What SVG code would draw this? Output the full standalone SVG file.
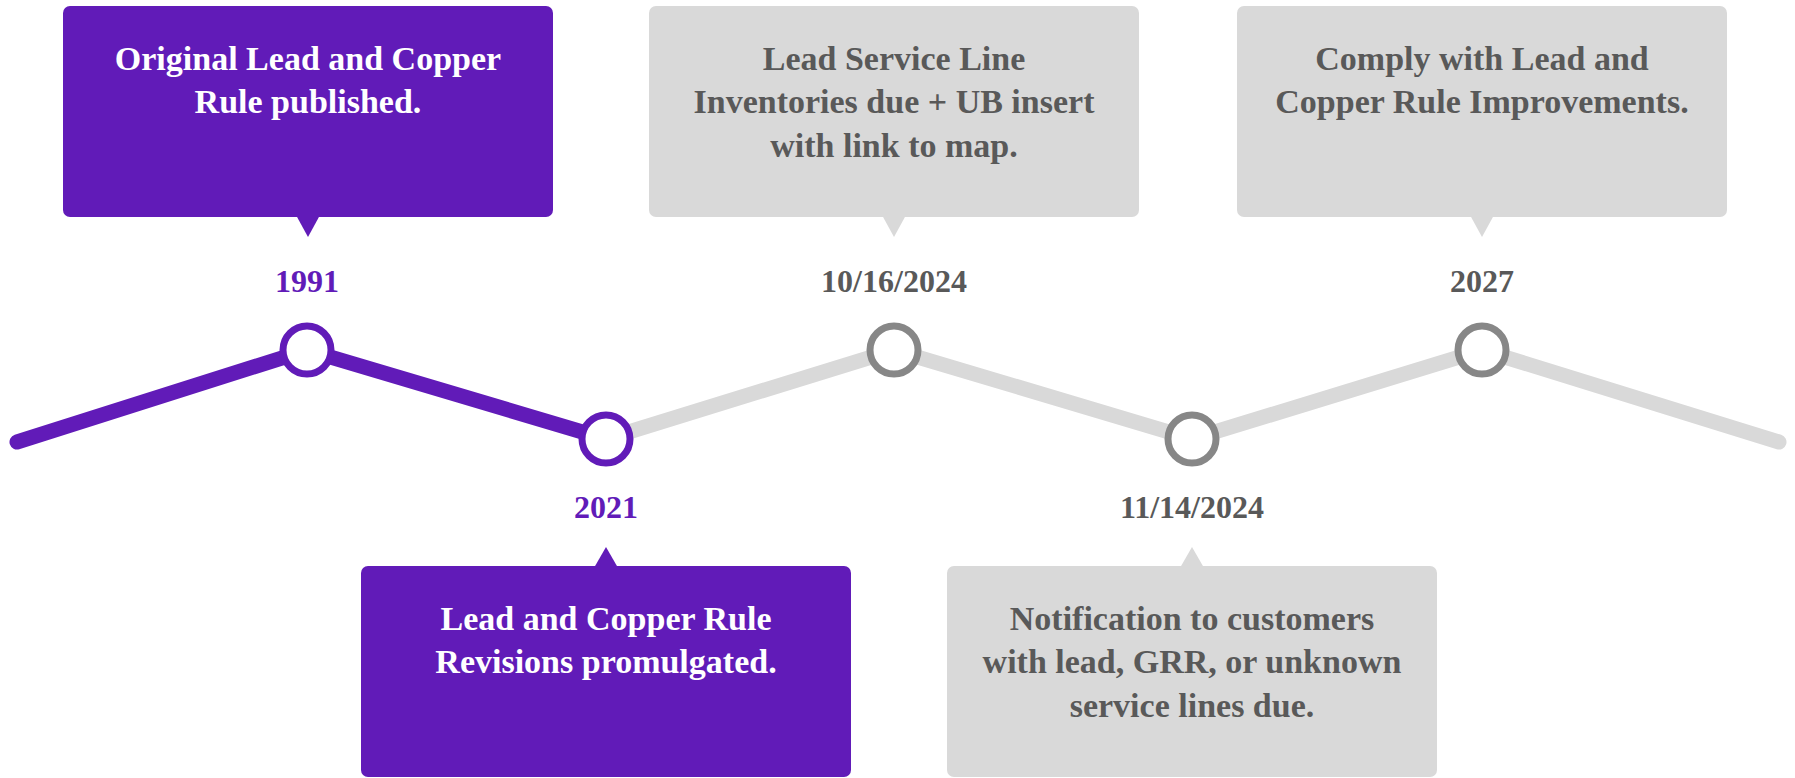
<svg xmlns="http://www.w3.org/2000/svg" width="1795" height="778" viewBox="0 0 1795 778">
<style>
.bp{fill:#611bb8}
.bg{fill:#d9d9d9}
.t{font-family:"Liberation Serif","Times New Roman",serif;font-weight:bold;text-anchor:middle}
.tw{fill:#ffffff;font-size:34px}
.tg{fill:#595959;font-size:34px}
.dp{fill:#611bb8;font-size:32px}
.dg{fill:#595959;font-size:32px}
.lp{stroke:#611bb8;stroke-width:15;stroke-linecap:round;fill:none}
.lg{stroke:#d9d9d9;stroke-width:15;stroke-linecap:round;fill:none}
.cp{fill:#ffffff;stroke:#611bb8;stroke-width:7}
.cg{fill:#ffffff;stroke:#878787;stroke-width:7}
</style>
<g id="connectors">
<polyline class="lg" points="606,439 894,350 1192,439 1482,350 1779,442"/>
<polyline class="lp" points="17,442 307,350 606,439"/>
</g>
<g id="n1991">
<rect class="bp" x="63" y="6" width="490" height="211" rx="7"/>
<polygon class="bp" points="296.5,216 319.5,216 308,237"/>
<text class="t tw" x="308" y="70">Original Lead and Copper</text>
<text class="t tw" x="308" y="113">Rule published.</text>
<text class="t dp" x="307" y="292">1991</text>
<circle class="cp" cx="307" cy="350" r="24"/>
</g>
<g id="n2021">
<rect class="bp" x="361" y="566" width="490" height="211" rx="7"/>
<polygon class="bp" points="594.5,567 617.5,567 606,547"/>
<text class="t tw" x="606" y="630">Lead and Copper Rule</text>
<text class="t tw" x="606" y="673">Revisions promulgated.</text>
<text class="t dp" x="606" y="518">2021</text>
<circle class="cp" cx="606" cy="439" r="24"/>
</g>
<g id="n20241016">
<rect class="bg" x="649" y="6" width="490" height="211" rx="7"/>
<polygon class="bg" points="882.5,216 905.5,216 894,237"/>
<text class="t tg" x="894" y="70">Lead Service Line</text>
<text class="t tg" x="894" y="113">Inventories due + UB insert</text>
<text class="t tg" x="894" y="157">with link to map.</text>
<text class="t dg" x="894" y="292">10/16/2024</text>
<circle class="cg" cx="894" cy="350" r="24"/>
</g>
<g id="n20241114">
<rect class="bg" x="947" y="566" width="490" height="211" rx="7"/>
<polygon class="bg" points="1180.5,567 1203.5,567 1192,547"/>
<text class="t tg" x="1192" y="630">Notification to customers</text>
<text class="t tg" x="1192" y="673">with lead, GRR, or unknown</text>
<text class="t tg" x="1192" y="717">service lines due.</text>
<text class="t dg" x="1192" y="518">11/14/2024</text>
<circle class="cg" cx="1192" cy="439" r="24"/>
</g>
<g id="n2027">
<rect class="bg" x="1237" y="6" width="490" height="211" rx="7"/>
<polygon class="bg" points="1470.5,216 1493.5,216 1482,237"/>
<text class="t tg" x="1482" y="70">Comply with Lead and</text>
<text class="t tg" x="1482" y="113">Copper Rule Improvements.</text>
<text class="t dg" x="1482" y="292">2027</text>
<circle class="cg" cx="1482" cy="350" r="24"/>
</g>
</svg>
